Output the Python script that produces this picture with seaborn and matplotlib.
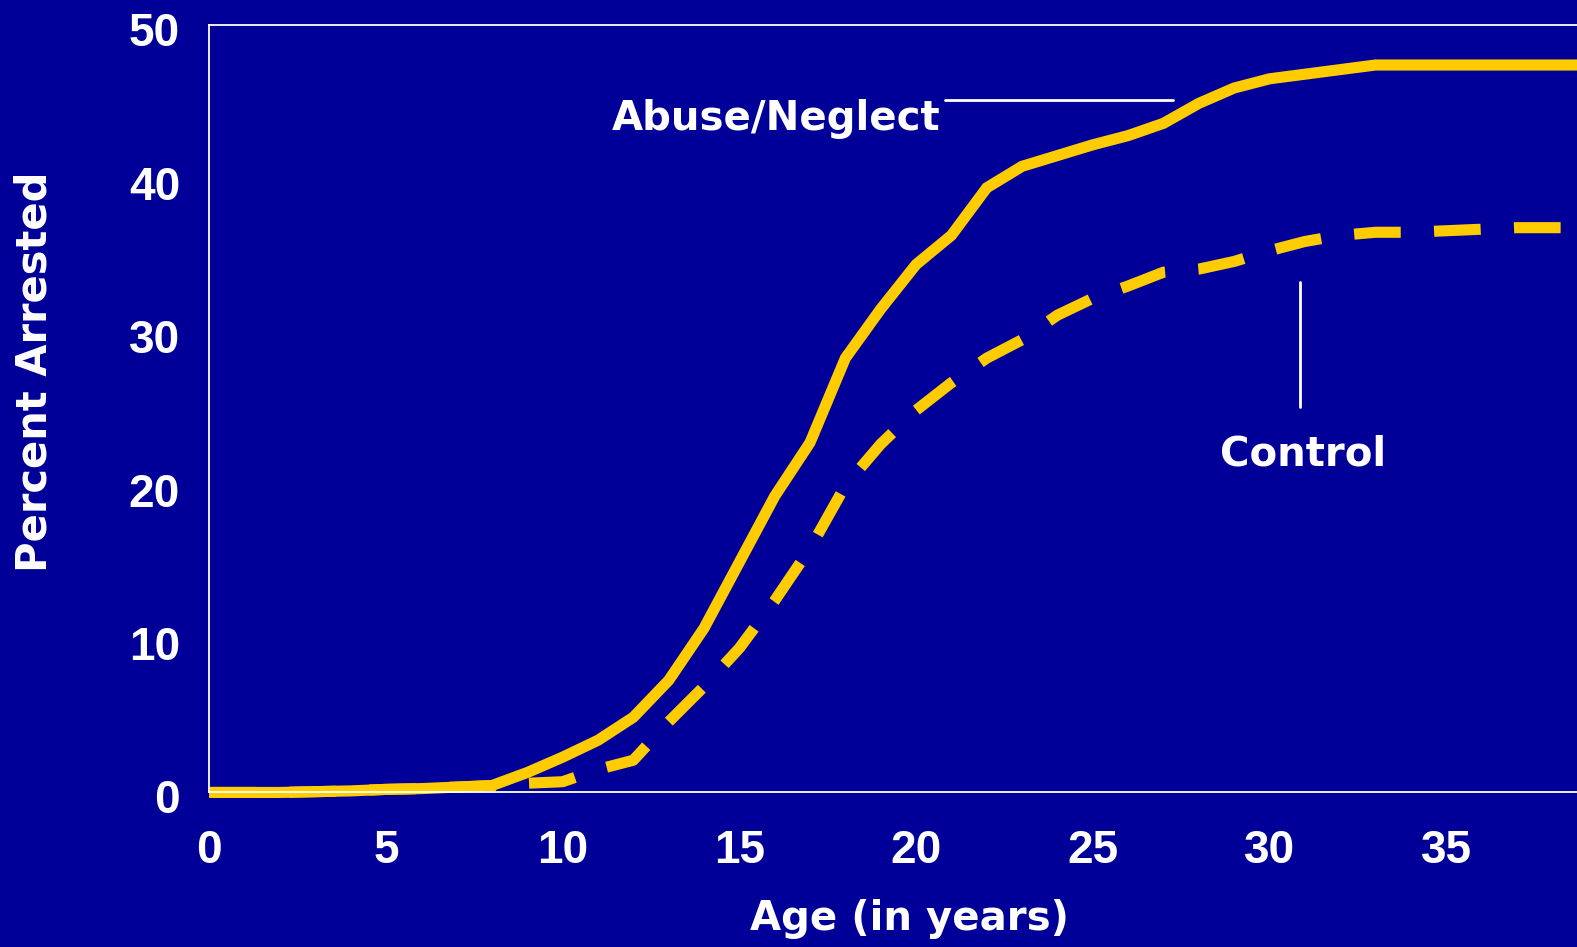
import matplotlib
matplotlib.use("Agg")
import matplotlib.pyplot as plt
import matplotlib.transforms as mtransforms
import seaborn as sns
import pandas as pd

# values
ages = list(range(0, 40))
abuse_neglect = [0.0, 0.0, 0.0, 0.05, 0.1, 0.2, 0.25, 0.35, 0.45, 1.3,
                 2.3, 3.4, 4.9, 7.3, 10.7, 15.0, 19.3, 22.8, 28.3, 31.5,
                 34.4, 36.3, 39.4, 40.8, 41.5, 42.2, 42.8, 43.6, 44.9, 45.9,
                 46.5, 46.8, 47.1, 47.4, 47.4, 47.4, 47.4, 47.4, 47.4, 47.4]
control = [0.0, 0.0, 0.0, 0.05, 0.1, 0.2, 0.25, 0.35, 0.45, 0.6,
           0.7, 1.5, 2.1, 4.6, 6.9, 9.4, 12.5, 15.9, 20.0, 22.7,
           24.9, 26.7, 28.3, 29.5, 31.1, 32.2, 33.0, 33.9, 34.1, 34.6,
           35.3, 35.9, 36.3, 36.5, 36.5, 36.6, 36.7, 36.8, 36.8, 36.8]
x_ticks = [0, 5, 10, 15, 20, 25, 30, 35]
y_ticks = [0, 10, 20, 30, 40, 50]

BG = "#000099"
GOLD = "#FFCC00"

df = pd.DataFrame({"age": ages, "abuse": abuse_neglect, "control": control})

sns.set_style("white")
fig = plt.figure(figsize=(15.77, 9.47), dpi=100, facecolor=BG)
ax = fig.add_axes([209.2 / 1577, 0.1632, 1 - 209.2 / 1577, 0.8103])
ax.set_facecolor(BG)

sns.lineplot(data=df, x="age", y="abuse", color=GOLD, lw=8, ax=ax,
             clip_on=False, solid_joinstyle="miter", solid_capstyle="butt")
sns.lineplot(data=df, x="age", y="control", color=GOLD, lw=8, ax=ax,
             clip_on=False, linestyle=(0, (4.2, 3.0)))

ax.set_xlim(0, 38.7)
ax.set_ylim(0, 50)
ax.set_xticks(x_ticks)
ax.set_yticks(y_ticks)
tick_font = dict(family="Liberation Sans", weight="bold", size=33)
ax.set_xticklabels([str(t) for t in x_ticks], **tick_font, color="white")
ax.set_yticklabels([str(t) for t in y_ticks], **tick_font, color="white")
ax.tick_params(axis="both", length=0)
ax.tick_params(axis="x", pad=26)
ax.tick_params(axis="y", pad=21)

# nudge y tick labels down a little, as in the original slide
shift = mtransforms.ScaledTranslation(0, -0.04, fig.dpi_scale_trans)
for lbl in ax.get_yticklabels():
    lbl.set_transform(lbl.get_transform() + shift)

for side in ["left", "top", "bottom"]:
    ax.spines[side].set_color("white")
    ax.spines[side].set_linewidth(1.3)
ax.spines["right"].set_visible(False)

label_font = dict(family="DejaVu Sans", weight="bold", size=29, color="white")
ax.set_xlabel("")
ax.set_ylabel("")
fig.text(909 / 1577, 1 - 919 / 947, "Age (in years)", ha="center", va="center", **label_font)
fig.text(35 / 1577, 1 - 372 / 947, "Percent Arrested", ha="center", va="center",
         rotation=90, family="DejaVu Sans", weight="bold", size=30, color="white")

# callouts
ax.plot([20.82, 27.27], [45.13, 45.13], color="white", lw=2, clip_on=False)
ax.text(20.68, 43.9, "Abuse/Neglect", ha="right", va="center", **label_font)
ax.plot([30.87, 30.87], [33.26, 25.11], color="white", lw=2)
ax.text(30.95, 22.0, "Control", ha="center", va="center", **label_font)

fig.savefig("out.png", dpi=100, facecolor=BG)
